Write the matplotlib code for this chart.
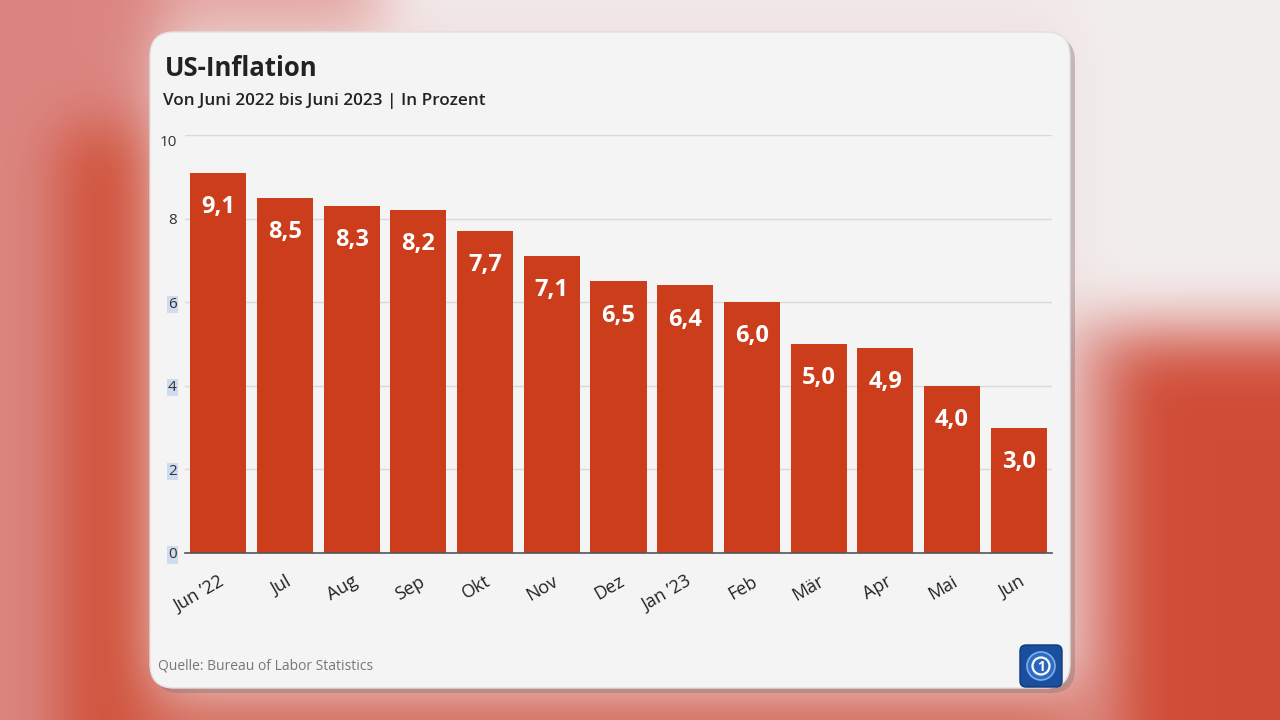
import numpy as np
import matplotlib.pyplot as plt
from matplotlib.patches import FancyBboxPatch, Circle
from matplotlib.colors import to_rgb

plt.rcParams['font.family'] = ['Open Sans', 'DejaVu Sans']

# Daten
monate = ['Jun \u201922', 'Jul', 'Aug', 'Sep', 'Okt', 'Nov', 'Dez',
          'Jan \u201923', 'Feb', 'M\u00e4r', 'Apr', 'Mai', 'Jun']
inflation = [9.1, 8.5, 8.3, 8.2, 7.7, 7.1, 6.5, 6.4, 6.0, 5.0, 4.9, 4.0, 3.0]
y_ticks = [0, 2, 4, 6, 8, 10]

BAR_RED = '#cc3d1c'
W, H = 1280, 720


def blurred_background():
    ''' unscharfer roter Hintergrund hinter der Karte '''
    s = 4
    img = np.ones((H // s, W // s, 3)) * np.array(to_rgb('#efdede'))
    rects = [
        (0, 0, 160, 720, '#db8580'),
        (60, 130, 150, 720, '#d0523a'),
        (160, 0, 380, 35, '#e4a6a2'),
        (380, 0, 1080, 30, '#f3eaea'),
        (140, 690, 1110, 720, '#d56a5a'),
        (1075, 0, 1280, 320, '#f3eeee'),
        (1075, 320, 1280, 720, '#de928c'),
        (1120, 350, 1280, 720, '#d04c36'),
    ]
    for x0, y0, x1, y1, c in rects:
        img[y0 // s:y1 // s, x0 // s:x1 // s] = to_rgb(c)
    sigma = 7
    k = np.exp(-0.5 * (np.arange(-3 * sigma, 3 * sigma + 1) / sigma) ** 2)
    k /= k.sum()
    pad = 3 * sigma
    for axis in (0, 1):
        p = [(0, 0)] * 3
        p[axis] = (pad, pad)
        padded = np.pad(img, p, mode='edge')
        img = np.apply_along_axis(lambda v: np.convolve(v, k, mode='valid'), axis, padded)
    return img


fig = plt.figure(figsize=(12.8, 7.2), dpi=100)

bg = fig.add_axes([0, 0, 1, 1])
bg.imshow(blurred_background(), extent=(0, W, H, 0), interpolation='bicubic', aspect='auto')
bg.set_xlim(0, W)
bg.set_ylim(H, 0)
bg.axis('off')

# Karte mit Schatten
shadow = FancyBboxPatch((155, 37), 920, 656, boxstyle='round,pad=0,rounding_size=24',
                        fc='#8a7070', ec='none', alpha=0.4)
bg.add_patch(shadow)
card = FancyBboxPatch((150, 32), 920, 656, boxstyle='round,pad=0,rounding_size=24',
                      fc='#f4f4f4', ec='#e0e0e0', lw=1)
bg.add_patch(card)

# Logo
logo = FancyBboxPatch((1020, 645), 42, 42, boxstyle='round,pad=0,rounding_size=6',
                      fc='#1a4f9e', ec='#0f3a7a', lw=1)
bg.add_patch(logo)
bg.add_patch(Circle((1041, 666), 14, fc='#2d6cc4', ec='#7fb0e8', lw=1.2))
bg.add_patch(Circle((1041, 666), 8.5, fc='#2a66bb', ec='white', lw=1.6))
bg.text(1041, 667, '1', color='white', fontsize=10, fontweight='bold', ha='center', va='center')

bg.text(165, 68, 'US-Inflation', fontsize=18.5, fontweight='bold', color='#222222', va='center')
bg.text(163, 101, 'Von Juni 2022 bis Juni 2023 | In Prozent', fontsize=12.3,
        fontweight='semibold', color='#222222', va='center')
bg.text(158, 666, 'Quelle: Bureau of Labor Statistics', fontsize=10, color='#777777', va='center')

# Balkendiagramm
ax = fig.add_axes([185 / W, 1 - 553 / H, 867 / W, 418 / H])
ax.patch.set_alpha(0)
x = np.arange(len(monate))
bars = ax.bar(x, inflation, width=0.84, color=BAR_RED, zorder=3)
for rect, v in zip(bars, inflation):
    ax.annotate(('%.1f' % v).replace('.', ','), (rect.get_x() + rect.get_width() / 2, v),
                xytext=(0, -16), textcoords='offset points', ha='center', va='top',
                color='white', fontsize=17, fontweight='bold', zorder=4)

ax.set_xlim(-0.5, len(monate) - 0.5)
ax.set_ylim(0, 10)
ax.set_yticks(y_ticks)
ax.set_yticklabels([str(t) for t in y_ticks], fontsize=11, color='#333333')
for t, lab in zip(y_ticks, ax.get_yticklabels()):
    if t in (0, 2, 4, 6):
        lab.set_bbox(dict(fc='#cfdcef', ec='none', pad=0.8))
    if t == 10:
        lab.set_va('top')
ax.set_xticks(x)
ax.set_xticklabels(monate, fontsize=13, color='#222222', rotation=30, ha='right',
                   rotation_mode='anchor')
ax.tick_params(axis='y', length=0, pad=6)
ax.tick_params(axis='x', length=0, pad=14)
ax.grid(axis='y', color='#d9d9d9', lw=1, zorder=0)
for side in ('top', 'right', 'left'):
    ax.spines[side].set_visible(False)
ax.spines['bottom'].set_color('#555555')
ax.spines['bottom'].set_linewidth(1.2)
ax.spines['bottom'].set_zorder(5)

fig.savefig('out.png', dpi=100)
